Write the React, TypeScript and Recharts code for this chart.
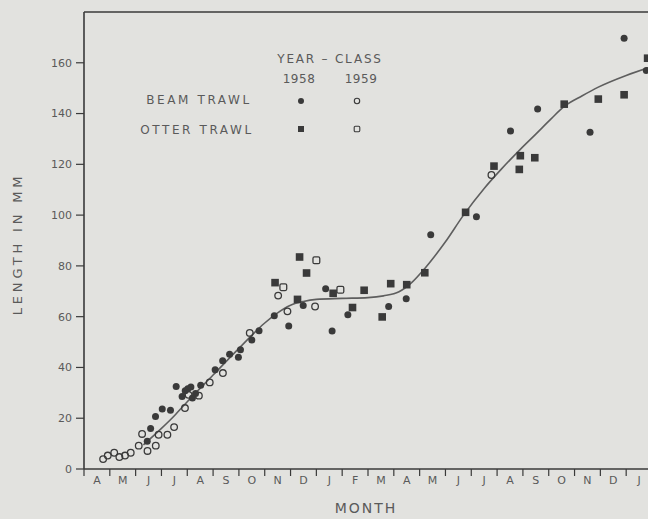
import { ComposedChart, Scatter, Line, XAxis, YAxis, ReferenceLine } from 'recharts';

const MONTHS = ['A', 'M', 'J', 'J', 'A', 'S', 'O', 'N', 'D', 'J', 'F', 'M', 'A', 'M', 'J', 'J', 'A', 'S', 'O', 'N', 'D', 'J'];
const MONTH_TICKS = Array.from({ length: 23 }, (_, i) => i);
const LENGTH_TICKS = [0, 20, 40, 60, 80, 100, 120, 140, 160];

// [month index from 1 April 1958, length mm]
const beamTrawl1958: [number, number][] = [
  [2.45, 10.9], [2.58, 16], [2.77, 20.7], [3.03, 23.6], [3.35, 23.1], [3.57, 32.5],
  [3.8, 28.6], [3.92, 30.8], [4.02, 31.6], [4.14, 32.3], [4.2, 28], [4.32, 29.7],
  [4.52, 33], [5.08, 39.1], [5.37, 42.6], [5.64, 45.2], [5.98, 44], [6.06, 47],
  [6.5, 50.8], [6.78, 54.5], [7.37, 60.4], [7.93, 56.3], [8.49, 64.4], [9.36, 71],
  [9.61, 54.4], [10.22, 60.8], [11.8, 64], [12.48, 67.1], [13.43, 92.3], [15.2, 99.4],
  [16.52, 133.1], [17.57, 141.8], [19.6, 132.6], [20.92, 169.7], [21.78, 157],
];

const beamTrawl1959: [number, number][] = [
  [0.74, 3.9], [0.92, 5.3], [1.17, 6.4], [1.37, 4.7], [1.59, 5.3], [1.81, 6.4],
  [2.12, 9.2], [2.25, 13.8], [2.46, 7.1], [2.78, 9.2], [2.89, 13.5], [3.23, 13.5],
  [3.49, 16.5], [3.91, 24], [4.05, 29.2], [4.45, 28.9], [4.87, 34.1], [5.38, 37.8],
  [6.42, 53.6], [7.52, 68.3], [7.88, 62.1], [8.95, 64], [15.78, 115.8],
];

const otterTrawl1958: [number, number][] = [
  [7.4, 73.4], [8.27, 66.8], [8.35, 83.5], [8.62, 77.2], [9.65, 69.2], [10.4, 63.6],
  [10.85, 70.4], [11.55, 59.9], [11.88, 73], [12.5, 72.6], [13.2, 77.3], [14.78, 101.1],
  [15.88, 119.3], [16.86, 118], [16.9, 123.4], [17.46, 122.6], [18.6, 143.7],
  [19.92, 145.7], [20.92, 147.4], [21.83, 161.8],
];

const otterTrawl1959: [number, number][] = [
  [7.72, 71.6], [9.0, 82.2], [9.93, 70.6],
];

const growthCurve: [number, number][] = [
  [2.3, 9.5], [3, 16], [3.5, 21], [4, 26.5], [5, 37], [6, 47.5], [7, 57.5],
  [7.5, 61.5], [8, 64.5], [8.5, 66], [9, 66.8], [10, 67.2], [11, 67.5], [11.6, 68.2],
  [12.2, 69.8], [12.7, 73.5], [13.2, 79], [14, 89.5], [14.7, 100], [15.5, 110.5],
  [16.2, 118.5], [16.9, 125.9], [17.5, 131.9], [18.1, 138], [18.6, 142.8], [19.3, 147],
  [19.9, 150.3], [21, 155], [22, 158.5],
];

const toRows = (pts: [number, number][]) => pts.map(([m, v]) => ({ m, v }));

const INK = '#3a3a3a';
const TEXT = '#5a5a5a';
const BG = '#e2e2df';
const FONT = "'DejaVu Sans', sans-serif";
const MONTH_W = 568 / 22;

const FilledCircle = (p: any) => <circle cx={p.cx} cy={p.cy} r={3.5} fill={INK} />;
const OpenCircle = (p: any) => (
  <circle cx={p.cx} cy={p.cy} r={3.3} fill="none" stroke={INK} strokeWidth={1.3} />
);
const FilledSquare = (p: any) => (
  <rect x={p.cx - 3.8} y={p.cy - 3.8} width={7.6} height={7.6} fill={INK} />
);
const OpenSquare = (p: any) => (
  <rect x={p.cx - 3.4} y={p.cy - 3.4} width={6.8} height={6.8} rx={1.5} fill="none" stroke={INK} strokeWidth={1.3} />
);

const MonthTick = (props: any) => {
  const { x, y, payload } = props;
  const label = MONTHS[payload.value];
  if (!label) return <g />;
  return (
    <text x={x + MONTH_W / 2} y={y + 8} textAnchor="middle" fill={TEXT} fontSize={11} fontFamily={FONT}>
      {label}
    </text>
  );
};

function Label({ x, y, text, size = 12, spacing = 2.6, rotate = 0 }: any) {
  return (
    <div
      style={{
        position: 'absolute', left: x, top: y, whiteSpace: 'nowrap',
        transform: `translate(-50%, -50%) rotate(${rotate}deg)`,
        fontFamily: FONT, fontSize: size, letterSpacing: spacing, color: TEXT, lineHeight: 1,
      }}
    >
      {text}
    </div>
  );
}

function Marker({ x, y, kind }: { x: number; y: number; kind: string }) {
  return (
    <svg width={10} height={10} style={{ position: 'absolute', left: x - 5, top: y - 5 }}>
      {kind === 'fc' && <circle cx={5} cy={5} r={3} fill={INK} />}
      {kind === 'oc' && <circle cx={5} cy={5} r={2.7} fill="none" stroke={INK} strokeWidth={1.1} />}
      {kind === 'fs' && <rect x={2} y={2} width={6} height={6} fill={INK} />}
      {kind === 'os' && <rect x={2.2} y={2.2} width={5.6} height={5.6} rx={1.2} fill="none" stroke={INK} strokeWidth={1.1} />}
    </svg>
  );
}

export default function App() {
  return (
    <div style={{ position: 'absolute', left: 0, top: 0, width: 648, height: 519, overflow: 'hidden', background: BG }}>
      <ComposedChart width={660} height={519} margin={{ top: 12, right: 8, bottom: 20, left: 0 }}>
        <XAxis
          type="number"
          dataKey="m"
          domain={[0, 22]}
          ticks={MONTH_TICKS}
          interval={0}
          tick={<MonthTick />}
          tickSize={7}
          tickMargin={0}
          height={30}
          axisLine={{ stroke: INK, strokeWidth: 1.6 }}
          tickLine={{ stroke: INK, strokeWidth: 1.2 }}
        />
        <YAxis
          type="number"
          dataKey="v"
          domain={[0, 180]}
          ticks={LENGTH_TICKS}
          interval={0}
          width={84}
          tickSize={8}
          tickMargin={4}
          tick={{ fill: TEXT, fontSize: 11, fontFamily: FONT }}
          axisLine={{ stroke: INK, strokeWidth: 1.6 }}
          tickLine={{ stroke: INK, strokeWidth: 1.2 }}
        />
        <ReferenceLine y={180} stroke={INK} strokeWidth={1.6} ifOverflow="visible" />
        <Line
          data={toRows(growthCurve)}
          dataKey="v"
          type="monotone"
          stroke="#5e5e5e"
          strokeWidth={1.6}
          dot={false}
          activeDot={false}
          isAnimationActive={false}
        />
        <Scatter data={toRows(beamTrawl1959)} dataKey="v" shape={OpenCircle} isAnimationActive={false} />
        <Scatter data={toRows(otterTrawl1959)} dataKey="v" shape={OpenSquare} isAnimationActive={false} />
        <Scatter data={toRows(beamTrawl1958)} dataKey="v" shape={FilledCircle} isAnimationActive={false} />
        <Scatter data={toRows(otterTrawl1958)} dataKey="v" shape={FilledSquare} isAnimationActive={false} />
      </ComposedChart>

      <Label x={330} y={59} text="YEAR – CLASS" spacing={1.8} />
      <Label x={299} y={79} text="1958" spacing={0.5} />
      <Label x={361} y={79} text="1959" spacing={0.5} />
      <Label x={199} y={100} text="BEAM TRAWL" />
      <Label x={197} y={130} text="OTTER TRAWL" />
      <Marker x={301} y={101} kind="fc" />
      <Marker x={357} y={101} kind="oc" />
      <Marker x={301} y={129} kind="fs" />
      <Marker x={357} y={129} kind="os" />

      <Label x={366} y={508} text="MONTH" size={14} spacing={2} />
      <Label x={17} y={244} text="LENGTH IN MM" size={13} spacing={3.8} rotate={-90} />
    </div>
  );
}
